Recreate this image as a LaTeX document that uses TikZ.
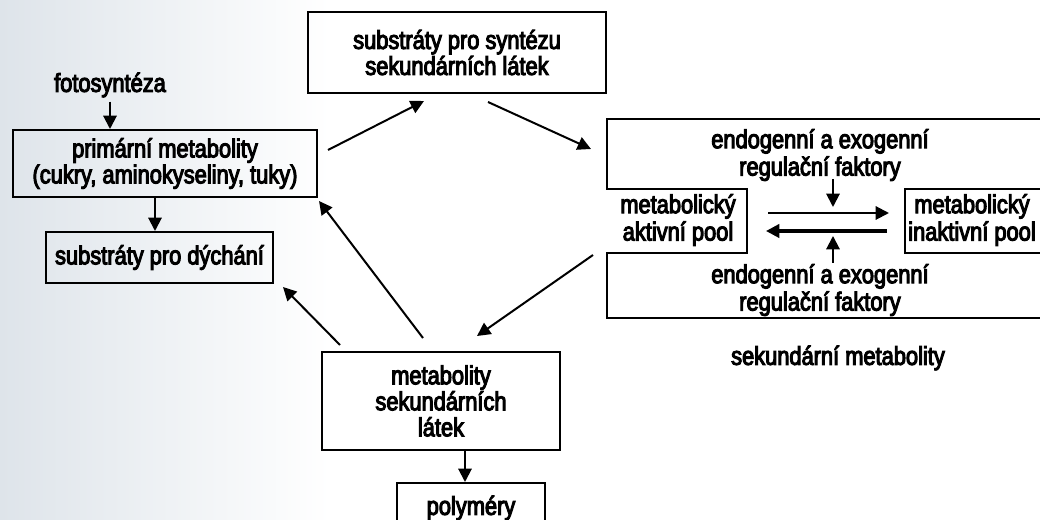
\documentclass[tikz,border=0pt]{standalone}
\usepackage{fontspec}
\setmainfont{Liberation Sans}[FakeStretch=0.84, FakeBold=4]
\usetikzlibrary{arrows.meta}
\definecolor{scanbg}{RGB}{222,228,234}
\tikzset{
  line/.style={line width=1.5pt, line join=miter},
  box/.style={draw, line width=1.5pt, inner sep=0pt, align=center, font=\fontsize{19.5pt}{19.5pt}\selectfont},
  lbl/.style={inner sep=0pt, align=center, font=\fontsize{19.5pt}{19.5pt}\selectfont},
  arr/.style={line width=1.5pt, -{Triangle[length=10pt,width=10pt]}},
  arrthick/.style={line width=2.3pt, -{Triangle[length=10pt,width=10pt]}},
}
\begin{document}
\begin{tikzpicture}[x=0.75pt,y=-0.75pt]
\useasboundingbox (0,0) rectangle (1040,520);
\clip (0,0) rectangle (1040,520);
\shade[left color=scanbg, right color=white] (0,0) rectangle (330,520);

% left column
\node[lbl] (foto) at (110,85) {fotosyntéza};
\node[box, minimum width=304*0.75pt, minimum height=67*0.75pt] (prim) at (165,163.5) {primární metabolity\\(cukry, aminokyseliny, tuky)};
\node[box, minimum width=227*0.75pt, minimum height=51*0.75pt] (dych) at (159.5,257.5) {substráty pro dýchání};
\draw[arr] ([yshift=-4*0.75pt]foto.south) -- (foto.south |- prim.north);
\draw[arr] ([xshift=-10*0.75pt]prim.south) -- ([xshift=-4.5*0.75pt]dych.north);

% top
\node[box, minimum width=298*0.75pt, minimum height=81*0.75pt] (synt) at (457,52.5) {substráty pro syntézu\\sekundárních látek};

% bottom
\node[box, minimum width=238*0.75pt, minimum height=98*0.75pt] (meta) at (441,401) {metabolity\\sekundárních\\látek};
\node[box, minimum width=148*0.75pt, minimum height=50*0.75pt, anchor=north] (poly) at (471,482) {polyméry};
\draw[arr] ([xshift=24*0.75pt]meta.south) -- ([xshift=-6*0.75pt]poly.north);

% right structure
\draw[line] (1045,119) -- (607,119) -- (607,189) -- (747,189) -- (747,253) -- (607,253) -- (607,318) -- (1045,318);
\draw[line] (1045,189) -- (905,189) -- (905,253) -- (1045,253);
\node[lbl] (endo1) at (820,155) {endogenní a exogenní\\[1pt]regulační faktory};
\node[lbl] (endo2) at (820,290) {endogenní a exogenní\\[1pt]regulační faktory};
\node[lbl] (act) at (678,220) {metabolický\\[1pt]aktivní pool};
\node[lbl] (inact) at (972,220) {metabolický\\[1pt]inaktivní pool};
\node[lbl] (sek) at (838,358) {sekundární metabolity};

\coordinate (d1) at (833,179);
\coordinate (d2) at (833,207);
\coordinate (u1) at (833,263);
\coordinate (u2) at (833,236);
\draw[arr] (d1) -- (d2);
\draw[arr] (u1) -- (u2);
\coordinate (r1) at (768,213);
\coordinate (r2) at (889,213);
\coordinate (l1) at (887,231);
\coordinate (l2) at (766,231);
\draw[arr] (r1) -- (r2);
\draw[arrthick] (l1) -- (l2);

% cycle arrows
\coordinate (a1) at (328,150);
\coordinate (a2) at (424,101);
\coordinate (b1) at (488,102);
\coordinate (b2) at (591,149);
\coordinate (c1) at (593,255);
\coordinate (c2) at (477,336);
\coordinate (e1) at (423,338);
\coordinate (e2) at (319,201);
\coordinate (f1) at (340,345);
\coordinate (f2) at (283,287);
\draw[arr] (a1) -- (a2);
\draw[arr] (b1) -- (b2);
\draw[arr] (c1) -- (c2);
\draw[arr] (e1) -- (e2);
\draw[arr] (f1) -- (f2);
\end{tikzpicture}
\end{document}
